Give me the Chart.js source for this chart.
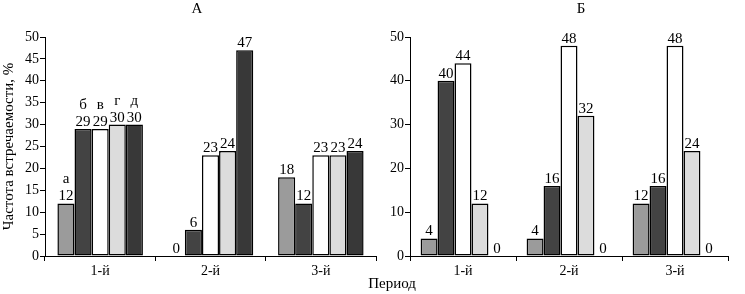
<!DOCTYPE html>
<html lang="ru">
<head>
<meta charset="UTF-8">
<title>Частота встречаемости по периодам</title>
<script src="https://cdn.jsdelivr.net/npm/chart.js"></script>
<style>
    body { margin: 0; background: #fff; font-family: "Liberation Serif", serif; }
    #wrap { position: relative; width: 745px; height: 294px; }
    canvas { position: absolute; top: 0; }
    #grafA { left: 0; }
    #grafB { left: 370px; }
    .lbl { position: absolute; font-size: 15px; color: #000; transform: translate(-50%, -50%); white-space: nowrap; }
</style>
</head>
<body>
<div id="wrap">
    <canvas id="grafA" width="380" height="294"></canvas>
    <canvas id="grafB" width="375" height="294"></canvas>
    <div class="lbl" style="left:197px; top:8px">А</div>
    <div class="lbl" style="left:581px; top:8px">Б</div>
    <div class="lbl" style="left:392px; top:283px">Период</div>
</div>

<script>
// данные
const periodos = ["1-й", "2-й", "3-й"];
const letras = ["а", "б", "в", "г", "д"];

// панель А
const a_A = [12, 0, 18];
const b_A = [29, 6, 12];
const v_A = [29, 23, 23];
const g_A = [30, 24, 23];
const d_A = [30, 47, 24];

// панель Б
const a_B = [4, 4, 12];
const b_B = [40, 16, 16];
const v_B = [44, 48, 48];
const g_B = [12, 32, 24];
const d_B = [0, 0, 0];

const ticksA = { min: 0, max: 50, step: 5 };
const ticksB = { min: 0, max: 50, step: 10 };

const cores = ["#9b9b9b", "#434343", "#ffffff", "#dcdcdc", "#383838"];
const fonte = "'Liberation Serif', 'Times New Roman', serif";

Chart.defaults.font.family = fonte;
Chart.defaults.color = "#000";

// подписи значений над столбиками (и буквы над первой группой)
const rotulos = {
    id: "rotulos",
    afterDatasetsDraw(chart, args, opts) {
        const ctx = chart.ctx;
        ctx.save();
        ctx.font = "15px " + fonte;
        ctx.fillStyle = "#000";
        ctx.textAlign = "center";
        ctx.textBaseline = "alphabetic";
        chart.data.datasets.forEach((ds, i) => {
            chart.getDatasetMeta(i).data.forEach((bar, j) => {
                ctx.fillText(String(ds.data[j]), bar.x, bar.y - 3);
                if (opts.letras && j === 0) {
                    ctx.fillText(opts.letras[i], bar.x, bar.y - 20);
                }
            });
        });
        ctx.restore();
    }
};

function montar(id, series, t, yWidth, padRight, comTitulo, comLetras) {
    const datasets = series.map((s, i) => ({
        label: letras[i],
        data: s,
        backgroundColor: cores[i],
        borderColor: "#000",
        borderWidth: 1.5,
        borderSkipped: false,
        categoryPercentage: id === "grafA" ? 0.775 : 0.8,
        barPercentage: 1
    }));

    return new Chart(document.getElementById(id), {
        type: "bar",
        data: { labels: periodos, datasets: datasets },
        plugins: [rotulos],
        options: {
            responsive: false,
            animation: false,
            devicePixelRatio: 1,
            layout: { padding: { top: 37, right: padRight, left: 0, bottom: 0 } },
            plugins: {
                legend: { display: false },
                tooltip: { enabled: false },
                rotulos: { letras: comLetras ? letras : null }
            },
            scales: {
                x: {
                    offset: true,
                    grid: { display: true, offset: true, drawOnChartArea: false, drawTicks: true, tickLength: 5, color: "#000" },
                    border: { display: true, color: "#000", width: 1 },
                    ticks: { font: { size: 14 }, color: "#000", padding: 2 },
                    afterFit: (s) => { s.height = 38; }
                },
                y: {
                    min: t.min,
                    max: t.max,
                    grid: { display: true, drawOnChartArea: false, drawTicks: true, tickLength: 5, color: "#000" },
                    border: { display: true, color: "#000", width: 1 },
                    ticks: { stepSize: t.step, font: { size: 14 }, color: "#000", padding: 1 },
                    title: {
                        display: comTitulo,
                        text: "Частота встречаемости, %",
                        font: { size: 15 },
                        color: "#000",
                        padding: 0
                    },
                    afterFit: (s) => { s.width = yWidth; }
                }
            }
        }
    });
}

montar("grafA", [a_A, b_A, v_A, g_A, d_A], ticksA, 45, 4, true, true);
montar("grafB", [a_B, b_B, v_B, g_B, d_B], ticksB, 40, 17, false, false);
</script>
</body>
</html>
